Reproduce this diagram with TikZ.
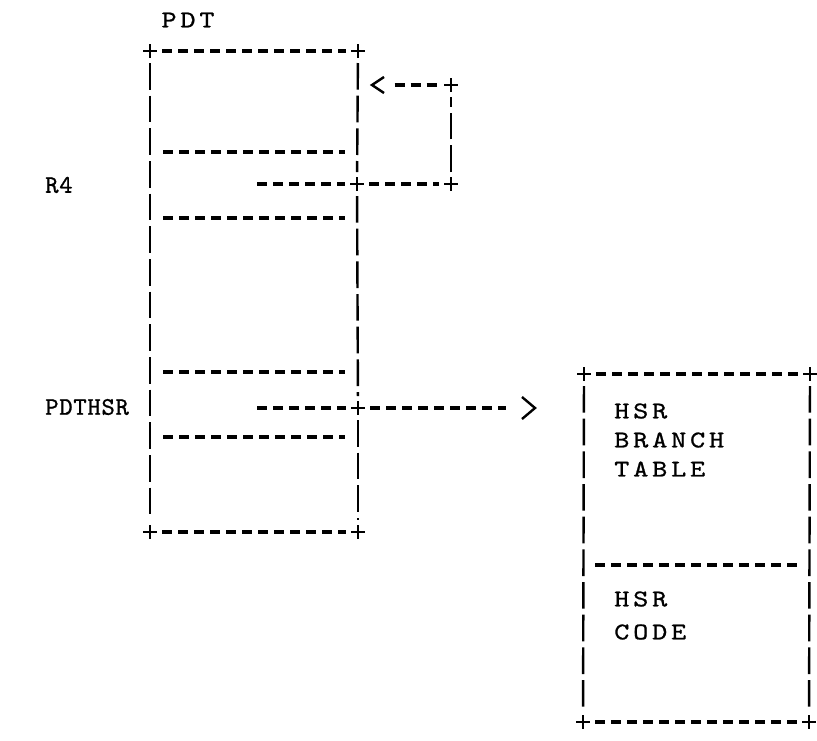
\documentclass[tikz,border=0pt]{standalone}
\usepackage{fontspec}
\newfontfamily\tw{lmmono10-regular.otf}[LetterSpace=3,FakeBold=0.9]
\newfontfamily\twb{lmmono10-regular.otf}[FakeStretch=1.2,FakeBold=0.9,LetterSpace=16]
\tikzset{
  x=0.75pt, y=-0.75pt,
  dashln/.style={line width=2.3pt, dash pattern=on 7.5pt off 4.5pt, dash phase=0pt},
  barln/.style={line width=1.8pt, dash pattern=on 20pt off 4.5pt, shorten <=9, shorten >=9},
  hln/.style={dashln, shorten <=9, shorten >=9},
  crossln/.style={line width=2pt},
  tipln/.style={line width=1.8pt},
  lbl/.style={font=\tw\fontsize{19}{22}\selectfont, inner sep=0pt, anchor=west},
  lblb/.style={font=\twb\fontsize{18}{21}\selectfont, inner sep=0pt, anchor=west},
}
\newcommand\plusmark[2]{\coordinate (#1) at (#2); \draw[crossln] (#1) +(-7,0) -- +(7,0) (#1) +(0,-7) -- +(0,7);}
\begin{document}
\begin{tikzpicture}
\useasboundingbox (0,0) rectangle (817,740);
% labels
\node[lblb, anchor=center] (pdt) at (188,20) {PDT};
\node[lbl] (r4) at (45,185) {R4};
\node[lbl] (pdthsr) at (45,407) {PDTHSR};
% left box corners
\plusmark{tl}{150,51}
\plusmark{tr}{358,51}
\plusmark{bl}{150,532}
\plusmark{br}{358,532}
\plusmark{rfour}{357,184}
\plusmark{rloopb}{451,184}
\plusmark{rloopt}{451,85}
\plusmark{hsrx}{358,408}
% left box border
\draw[hln] (tl) -- (tr);
\draw[hln] (bl) -- (br);
\draw[barln] (tl) -- (bl);
\draw[barln] (tr) -- (rfour);
\draw[barln] (rfour) -- (hsrx);
\draw[barln] (hsrx) -- (br);
% inner dividers
\coordinate (d1a) at (163,152); \coordinate (d1b) at (345,152);
\coordinate (d2a) at (163,218); \coordinate (d2b) at (345,218);
\coordinate (d3a) at (163,372); \coordinate (d3b) at (345,372);
\coordinate (d4a) at (163,437); \coordinate (d4b) at (345,437);
\draw[dashln] (d1a) -- (d1b);
\draw[dashln] (d2a) -- (d2b);
\draw[dashln] (d3a) -- (d3b);
\draw[dashln] (d4a) -- (d4b);
% R4 pointer loop
\coordinate (r4s) at (257,184);
\draw[dashln, shorten >=9] (r4s) -- (rfour);
\draw[hln] (rfour) -- (rloopb);
\draw[barln] (rloopb) -- (rloopt);
\coordinate (ltip) at (372,85);
\draw[dashln, shorten <=17, shorten >=9] (ltip) -- (rloopt);
\draw[tipln] (ltip) ++(12,-8) -- (ltip) -- ++(12,8);
% PDTHSR pointer
\coordinate (ps) at (257,408);
\coordinate (rtip) at (535,408);
\draw[dashln, shorten >=9] (ps) -- (hsrx);
\draw[dashln, shorten <=9, shorten >=22] (hsrx) -- (rtip);
\draw[tipln] (rtip) ++(-13,-11) -- (rtip) -- ++(-13,11);
% right box
\plusmark{rtl}{584,374}
\plusmark{rtr}{810,374}
\plusmark{rbl}{583,722}
\plusmark{rbr}{809,722}
\draw[hln] (rtl) -- (rtr);
\draw[hln] (rbl) -- (rbr);
\draw[barln] (rtl) -- (rbl);
\draw[barln] (rtr) -- (rbr);
\coordinate (e1a) at (595,565); \coordinate (e1b) at (799,565);
\draw[dashln] (e1a) -- (e1b);
\node[lblb] (t1) at (614,411) {HSR};
\node[lblb] (t2) at (614,440) {BRANCH};
\node[lblb] (t3) at (614,469) {TABLE};
\node[lblb] (t4) at (614,599) {HSR};
\node[lblb] (t5) at (614,632) {CODE};
\end{tikzpicture}
\end{document}
